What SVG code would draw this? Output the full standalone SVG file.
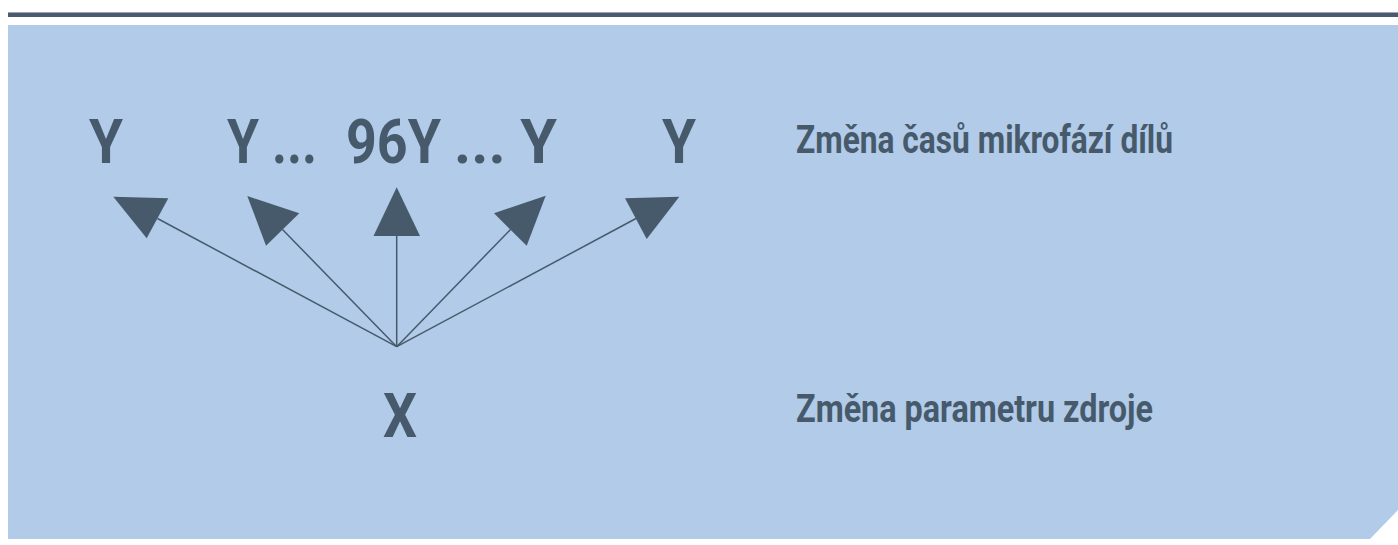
<svg xmlns="http://www.w3.org/2000/svg" width="1398" height="545" viewBox="0 0 1398 545">
  <style>
    .lbl { font-family: Roboto, "Liberation Sans", sans-serif; font-weight: 700; fill: #475a6c; }
    .big { font-size: 62px; }
    .cap { font-size: 39px; }
    .edge { stroke: #475a6c; stroke-width: 1.5; fill: none; }
    .head { fill: #475a6c; }
  </style>

  <!-- header rule -->
  <rect x="8" y="12" width="1390" height="1" fill="#9ba6b1"/>
  <rect x="8" y="13" width="1390" height="4" fill="#4a5b6f"/>

  <!-- background panel with clipped lower-right corner -->
  <polygon points="8,25 1398,25 1398,510 1370,539 8,539" fill="#b1cbe8"/>

  <!-- connectors from X to each Y -->
  <g id="connectors">
    <line class="edge" x1="396.7" y1="346.7" x2="157.5" y2="218.5"/>
    <line class="edge" x1="396.7" y1="346.7" x2="282.5" y2="229.5"/>
    <line class="edge" x1="396.7" y1="346.7" x2="396.7" y2="236"/>
    <line class="edge" x1="396.7" y1="346.7" x2="510.5" y2="229.5"/>
    <line class="edge" x1="396.7" y1="346.7" x2="636" y2="218.5"/>
    <polygon class="head" points="113.3,196.7 168.3,198.3 146.7,238.3"/>
    <polygon class="head" points="247.3,196 299.3,213.3 266,245.7"/>
    <polygon class="head" points="396.7,187.3 420,236 373.5,236"/>
    <polygon class="head" points="494,213.3 545.7,195.7 526.7,245.7"/>
    <polygon class="head" points="625,198.3 679.3,196.7 646.7,239"/>
  </g>

  <!-- output row -->
  <g id="y1"><text class="lbl big" x="89" y="163" textLength="34" lengthAdjust="spacingAndGlyphs">Y</text></g>
  <g id="y2"><text class="lbl big" x="227" y="163" textLength="90" lengthAdjust="spacingAndGlyphs">Y ...</text></g>
  <g id="y96"><text class="lbl big" x="346" y="163" textLength="95" lengthAdjust="spacingAndGlyphs">96Y</text></g>
  <g id="y4"><text class="lbl big" x="454" y="163" textLength="103" lengthAdjust="spacingAndGlyphs">... Y</text></g>
  <g id="y5"><text class="lbl big" x="662" y="163" textLength="34" lengthAdjust="spacingAndGlyphs">Y</text></g>

  <!-- input -->
  <g id="x"><text class="lbl big" x="383" y="437" textLength="34" lengthAdjust="spacingAndGlyphs">X</text></g>

  <!-- captions -->
  <g id="caption-top"><text class="lbl cap" x="796" y="153" textLength="377" lengthAdjust="spacingAndGlyphs">Změna časů mikrofází dílů</text></g>
  <g id="caption-bottom"><text class="lbl cap" x="796" y="422" textLength="357" lengthAdjust="spacingAndGlyphs">Změna parametru zdroje</text></g>
</svg>
